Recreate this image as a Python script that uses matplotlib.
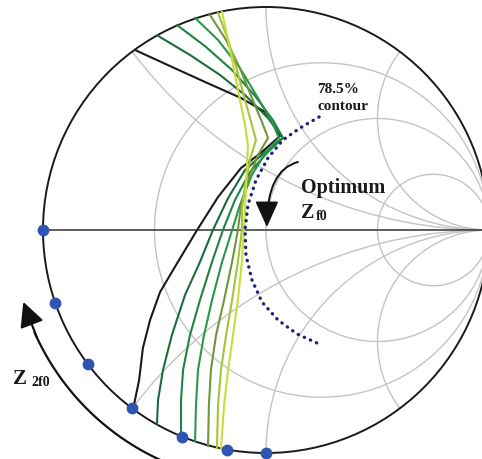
import numpy as np
import matplotlib
matplotlib.use("Agg")
import matplotlib.pyplot as plt
from matplotlib.patches import Circle, FancyArrowPatch

# ---------------- data ----------------
# Smith chart grid
r_values = [1/3, 1, 3]
x_values = [0.5, 1, 2, -0.5, -1, -2]

# Efficiency contours (reflection coefficient: real part, imaginary part)
black_re = [-0.587, -0.430, -0.274, -0.112, -0.004, 0.063, -0.018, -0.112, -0.215, -0.309,
            -0.395, -0.475, -0.520, -0.552, -0.569, -0.596]
black_im = [0.807, 0.735, 0.664, 0.592, 0.529, 0.422, 0.350, 0.278, 0.148, 0.0,
            -0.143, -0.278, -0.404, -0.529, -0.673, -0.803]

c1_re = [-0.488, -0.341, -0.206, -0.094, 0.009, 0.076, -0.004, -0.094, -0.170, -0.238,
         -0.296, -0.363, -0.422, -0.462, -0.484, -0.489]
c1_im = [0.873, 0.785, 0.695, 0.605, 0.502, 0.413, 0.350, 0.269, 0.143, 0.0,
         -0.143, -0.291, -0.471, -0.628, -0.762, -0.870]

c2_re = [-0.399, -0.274, -0.152, -0.049, 0.031, 0.076, 0.009, -0.072, -0.139, -0.193,
         -0.242, -0.296, -0.341, -0.372, -0.381, -0.381]
c2_im = [0.919, 0.825, 0.717, 0.601, 0.493, 0.413, 0.350, 0.260, 0.135, 0.0,
         -0.143, -0.314, -0.471, -0.628, -0.762, -0.924]

c3_re = [-0.318, -0.215, -0.117, -0.036, 0.027, 0.058, 0.0, -0.063, -0.117, -0.152,
         -0.197, -0.242, -0.278, -0.305, -0.314, -0.318]
c3_im = [0.951, 0.852, 0.726, 0.592, 0.484, 0.413, 0.350, 0.247, 0.112, 0.0,
         -0.143, -0.314, -0.471, -0.628, -0.785, -0.946]

c4_re = [-0.251, -0.179, -0.117, -0.063, -0.018, 0.009, -0.036, -0.081, -0.112, -0.126,
         -0.152, -0.188, -0.224, -0.247, -0.256, -0.260]
c4_im = [0.964, 0.852, 0.726, 0.592, 0.484, 0.413, 0.336, 0.224, 0.112, 0.0,
         -0.143, -0.314, -0.471, -0.628, -0.785, -0.969]

c5_re = [-0.215, -0.170, -0.130, -0.094, -0.063, -0.045, -0.072, -0.094, -0.108, -0.108,
         -0.126, -0.152, -0.179, -0.202, -0.215, -0.220]
c5_im = [0.973, 0.852, 0.717, 0.583, 0.471, 0.404, 0.314, 0.202, 0.090, 0.0,
         -0.143, -0.314, -0.471, -0.628, -0.785, -0.978]

c6_re = [-0.197, -0.170, -0.143, -0.117, -0.094, -0.081, -0.085, -0.090, -0.094, -0.099,
         -0.108, -0.126, -0.148, -0.170, -0.188, -0.202]
c6_im = [0.978, 0.852, 0.717, 0.583, 0.471, 0.381, 0.291, 0.179, 0.090, 0.0,
         -0.143, -0.314, -0.471, -0.628, -0.785, -0.982]

# 78.5 % efficiency contour
cont_re = [0.238, 0.152, 0.076, 0.009, -0.045, -0.081, -0.094, -0.090, -0.063, -0.018,
           0.054, 0.139, 0.229]
cont_im = [0.507, 0.457, 0.404, 0.323, 0.224, 0.112, 0.0, -0.112, -0.224, -0.323,
           -0.404, -0.466, -0.507]

# Z_2f0 terminations on the edge of the chart (phase of reflection coefficient, degrees)
z2f0_phase_deg = [180, 199, 217, 233, 248, 260, 270]

curve_colors = ["#1a1a1a", "#1d6b3b", "#208243", "#2a9848", "#6f963c", "#a3c53a", "#c9dd3a"]

# ---------------- figure ----------------
fig = plt.figure(figsize=(4.82, 4.59), dpi=100)
ax = fig.add_axes([0, 0, 1, 1])
ax.set_xlim(-266 / 223, (482 - 266) / 223)
ax.set_ylim((230 - 459) / 223, 230 / 223)
ax.set_aspect("equal")
ax.axis("off")

grid_col = "#c4c4c4"
unit = Circle((0, 0), 1.0, transform=ax.transData, facecolor="none", edgecolor="none")
ax.add_patch(unit)

for r in r_values:
    c = Circle((r / (r + 1), 0), 1 / (r + 1), facecolor="none", edgecolor=grid_col, lw=1.0)
    ax.add_patch(c)
    c.set_clip_path(unit)
for xv in x_values:
    c = Circle((1, 1 / xv), 1 / abs(xv), facecolor="none", edgecolor=grid_col, lw=1.0)
    ax.add_patch(c)
    c.set_clip_path(unit)

ax.plot([-1, 1], [0, 0], color="#333333", lw=1.1, zorder=2)
ax.add_patch(Circle((0, 0), 1.0, facecolor="none", edgecolor="#1a1a1a", lw=1.4, zorder=3))

curves = [(black_re, black_im), (c1_re, c1_im), (c2_re, c2_im), (c3_re, c3_im),
          (c4_re, c4_im), (c5_re, c5_im), (c6_re, c6_im)]
for (re, im), col in zip(curves, curve_colors):
    ax.plot(re, im, color=col, lw=1.5, zorder=4, solid_joinstyle="miter")

ax.plot(cont_re, cont_im, color="#1c2478", lw=2.4, linestyle=(0, (0.1, 1.9)),
        dash_capstyle="round", zorder=5)

ph = np.deg2rad(z2f0_phase_deg)
ax.plot(np.cos(ph), np.sin(ph), "o", color="#2f55b2", ms=7.5, zorder=6, clip_on=False)

# Z_2f0 rotation arrow (concentric arc)
R_arc = 1.135
t = np.deg2rad(np.linspace(252, 204, 60))
ax.plot(R_arc * np.cos(t), R_arc * np.sin(t), color="#111111", lw=1.6, zorder=4)
a0, a1 = np.deg2rad(205), np.deg2rad(196.5)
ax.add_patch(FancyArrowPatch((R_arc * np.cos(a0), R_arc * np.sin(a0)),
                             (R_arc * np.cos(a1), R_arc * np.sin(a1)),
                             arrowstyle="-|>,head_length=1.0,head_width=0.5",
                             mutation_scale=15, color="#111111", lw=1.6,
                             shrinkA=0, shrinkB=0, zorder=6))

# Optimum Z_f0 arrow
ax.add_patch(FancyArrowPatch((0.143, 0.305), (0.004, 0.013),
                             connectionstyle="angle3,angleA=15,angleB=90",
                             arrowstyle="-|>,head_length=1.0,head_width=0.45",
                             mutation_scale=16, color="#111111", lw=1.4,
                             shrinkA=0, shrinkB=0, zorder=6))

fnt = dict(family="Liberation Serif", weight="bold", color="#1a1a1a")
ax.text(0.229, 0.614, "78.5%", fontsize=11, ha="left", va="baseline", **fnt)
ax.text(0.229, 0.538, "contour", fontsize=11, ha="left", va="baseline", **fnt)
ax.text(0.157, 0.166, "Optimum", fontsize=14.5, ha="left", va="baseline", **fnt)
ax.text(0.157, 0.054, "Z", fontsize=14.5, ha="left", va="baseline", **fnt)
ax.text(0.224, 0.045, "f0", fontsize=10, ha="left", va="baseline", **fnt)
ax.text(-1.135, -0.690, "Z", fontsize=15, ha="left", va="baseline", **fnt)
ax.text(-1.054, -0.700, "2f0", fontsize=10, ha="left", va="baseline", **fnt)

fig.savefig("out.png", dpi=100)
